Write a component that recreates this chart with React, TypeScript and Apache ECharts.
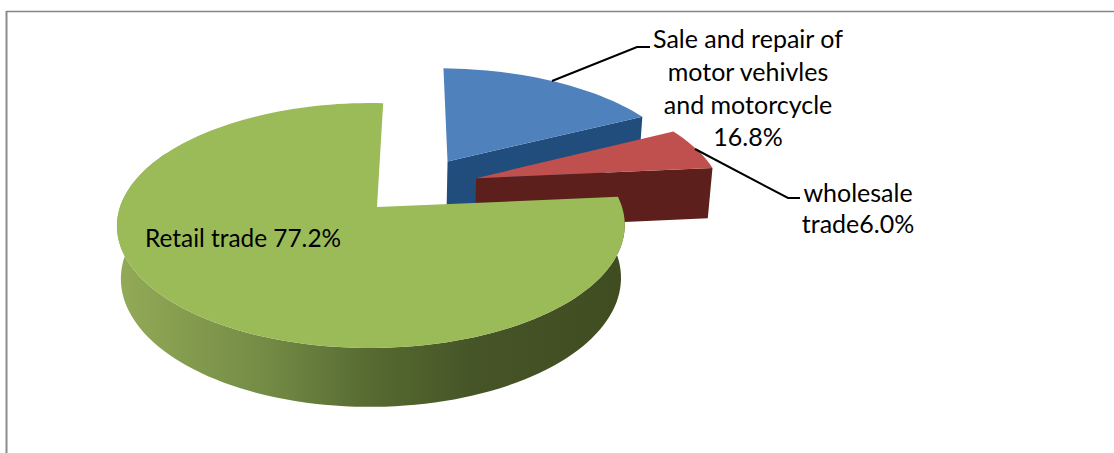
import React, { useEffect, useRef } from "react";
import * as echarts from "echarts";

const categories = ["Sale and repair of motor vehivles and motorcycle", "wholesale trade", "Retail trade"];
const shares = [16.8, 6.0, 77.2];
const topColors = ["#4f81bd", "#c0504d", "#9bbb59"];
const wallColors = ["#204d7c", "#5c1f1c", "#55682f"];
const blueLabel = ["Sale and repair of", "motor vehivles", "and motorcycle", "16.8%"];
const redLabel = ["wholesale", "trade6.0%"];
const greenLabel = "Retail trade 77.2%";

// 3D view of the pie: plan coordinates -> screen
const OX = 377, OY = 207, A = 251, B = 119.7, P = 0.151, DEPTH = 53, R = 0.015;
const EXPLODE = 0.257;
const ROTATE_FROM = [1.3, 3, 3];
const ROTATE_TO = [3, 2.6, 3];
const RIM_SHIFT = [0, 0, -0.024];
const APEX_NUDGE_U = [0, -0.002, 0];
const APEX_NUDGE_V = [0.012, 0.026, 0];
const WALL_LAST_ANGLE = 300;

const project = (u: number, v: number, h: number): [number, number] => {
  const w = 1 - P * v + R * h;
  return [OX + (A * u) / w, OY + (B * v + DEPTH * h) / w];
};
const dir = (deg: number): [number, number] => {
  const t = (deg * Math.PI) / 180;
  return [Math.sin(t), -Math.cos(t)];
};
const total = shares.reduce((s, x) => s + x, 0);

const renderItem = (params: any, api: any) => {
  const i = params.dataIndex;
  let before = 0;
  for (let k = 0; k < i; k++) before += shares[k];
  const value = api.value(1);
  const from = (before / total) * 360;
  const to = ((before + value) / total) * 360;
  const mid = (from + to) / 2;

  // the last slice's apex is the projection origin
  const greenFrom = ((total - shares[2]) / total) * 360;
  const gd = dir((greenFrom + 360) / 2);
  const md = dir(mid);
  const apexU = EXPLODE * (md[0] - gd[0]) + APEX_NUDGE_U[i];
  const apexV = EXPLODE * (md[1] - gd[1]) + APEX_NUDGE_V[i];

  const a0 = from + ROTATE_FROM[i];
  const a1 = to + ROTATE_TO[i];
  const steps = Math.max(8, Math.round((a1 - a0) / 2));
  const angleAt = (s: number) => a0 + ((a1 - a0) * s) / steps;
  const pointAt = (s: number, h: number) => {
    const d = dir(angleAt(s));
    return project(apexU + RIM_SHIFT[i] + d[0], apexV + d[1], h);
  };
  const topRim: [number, number][] = [];
  const wallTop: [number, number][] = [];
  const wallLow: [number, number][] = [];
  for (let s = 0; s <= steps; s++) {
    topRim.push(pointAt(s, 0));
    if (angleAt(s) <= WALL_LAST_ANGLE) {
      wallTop.push(pointAt(s, 0));
      wallLow.push(pointAt(s, 1));
    }
  }
  const apexTop = project(apexU, apexV, 0);
  const apexLow = project(apexU, apexV, 1);
  const children: any[] = [];

  if (i === 2) {
    children.push({
      type: "polygon",
      shape: { points: [...wallTop, ...wallLow.slice().reverse()] },
      style: {
        fill: {
          type: "linear", x: 0, y: 0, x2: 1, y2: 0,
          colorStops: [
            { offset: 0, color: "#93ab58" },
            { offset: 0.1, color: "#88a050" },
            { offset: 0.3, color: "#738a45" },
            { offset: 0.5, color: "#566a31" },
            { offset: 0.7, color: "#465527" },
            { offset: 1, color: "#3f4c20" },
          ],
        },
      },
    });
  } else {
    children.push({
      type: "polygon",
      shape: { points: [apexTop, pointAt(steps, 0), pointAt(steps, 1), apexLow] },
      style: { fill: wallColors[i] },
    });
  }
  children.push({
    type: "polygon",
    shape: { points: [apexTop, ...topRim] },
    style: { fill: topColors[i] },
  });
  return { type: "group", children };
};

const textStyle = { fontFamily: "Lato", fontSize: 24.4, fill: "#000" };
const centered = (text: string, x: number, y: number) => ({
  type: "text",
  x,
  y,
  style: { ...textStyle, fontSize: 25, text, textAlign: "center", textVerticalAlign: "middle" },
  z: 10,
});

export default function App() {
  const ref = useRef<HTMLDivElement>(null);
  useEffect(() => {
    const chart = echarts.init(ref.current!, null, { renderer: "svg" });
    chart.setOption({
      animation: false,
      backgroundColor: "#fff",
      series: [
        {
          type: "custom",
          coordinateSystem: "none",
          silent: true,
          renderItem,
          data: shares.map((v, i) => ({ name: categories[i], value: [i, v] })),
        },
      ],
      graphic: [
        { type: "line", shape: { x1: 6.5, y1: 11, x2: 6.5, y2: 453 }, style: { stroke: "#8c8c8c", lineWidth: 2 } },
        { type: "line", shape: { x1: 6, y1: 11.5, x2: 1114, y2: 11.5 }, style: { stroke: "#868686", lineWidth: 1.5 } },
        { type: "polyline", shape: { points: [[552, 81], [637, 47], [650, 47]] }, style: { stroke: "#000", lineWidth: 2, fill: "none" }, z: 10 },
        { type: "polyline", shape: { points: [[695, 149], [788, 198], [800, 198]] }, style: { stroke: "#000", lineWidth: 2, fill: "none" }, z: 10 },
        ...blueLabel.map((t, i) => centered(t, 748, 38 + i * 32.8)),
        ...redLabel.map((t, i) => centered(t, 858, 192 + i * 31)),
        { type: "text", x: 145, y: 237, style: { ...textStyle, text: greenLabel, textAlign: "left", textVerticalAlign: "middle" }, z: 10 },
      ],
    });
    return () => chart.dispose();
  }, []);
  return <div ref={ref} style={{ position: "fixed", left: 0, top: 0, width: 1114, height: 453 }} />;
}
